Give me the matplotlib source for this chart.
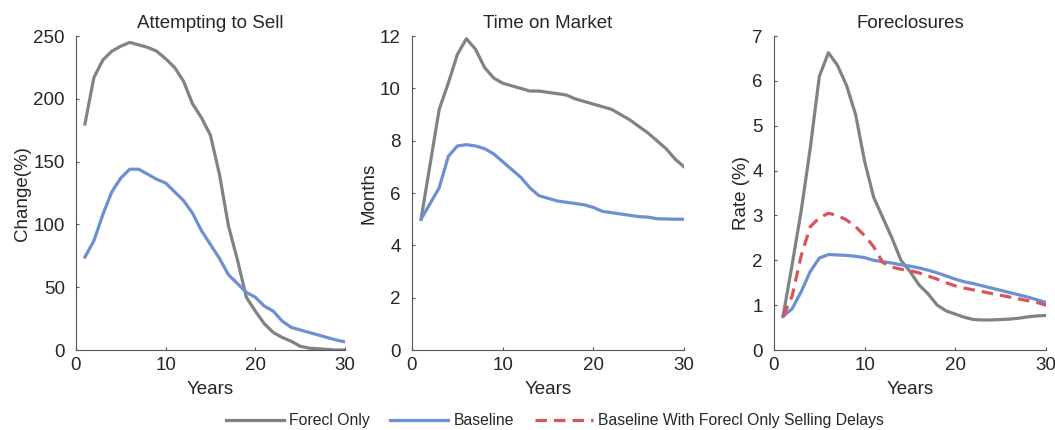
import numpy as np
import matplotlib
matplotlib.use("Agg")
import matplotlib.pyplot as plt

plt.rcParams['font.family'] = ['Liberation Sans', 'DejaVu Sans']

years = np.arange(1, 31)

# Attempting to sell, change (%)
sell_forecl = [180, 217, 231, 238, 242, 245, 243, 241, 238, 232,
               225, 214, 196, 185, 171, 140, 99, 72, 42, 31,
               21, 14, 10, 7, 3, 1.5, 1, 0.5, 0, 0]
sell_base = [74, 87, 108, 126, 137, 144, 144, 140, 136, 133,
             126, 119, 109, 95, 84, 73, 60, 53, 46, 42,
             35, 31, 23, 18, 16, 14, 12, 10, 8, 6.5]

# Time on market, months
tom_forecl = [5.0, 7.1, 9.2, 10.2, 11.3, 11.9, 11.5, 10.8, 10.4, 10.2,
              10.1, 10.0, 9.9, 9.9, 9.85, 9.8, 9.75, 9.6, 9.5, 9.4,
              9.3, 9.2, 9.0, 8.8, 8.55, 8.3, 8.0, 7.7, 7.3, 7.0]
tom_base = [5.0, 5.6, 6.2, 7.4, 7.8, 7.85, 7.8, 7.7, 7.5, 7.2,
            6.9, 6.6, 6.2, 5.9, 5.8, 5.7, 5.65, 5.6, 5.55, 5.45,
            5.3, 5.25, 5.2, 5.15, 5.1, 5.08, 5.02, 5.01, 5.0, 5.0]

# Foreclosure rate (%)
fc_forecl = [0.75, 1.9, 3.1, 4.5, 6.1, 6.63, 6.35, 5.9, 5.25, 4.2,
             3.4, 2.95, 2.5, 2.0, 1.75, 1.45, 1.25, 1.0, 0.87, 0.8,
             0.73, 0.68, 0.67, 0.67, 0.68, 0.69, 0.71, 0.74, 0.76, 0.77]
fc_base = [0.75, 0.92, 1.3, 1.75, 2.05, 2.13, 2.12, 2.11, 2.09, 2.06,
           2.0, 1.97, 1.94, 1.9, 1.87, 1.83, 1.78, 1.72, 1.65, 1.58,
           1.52, 1.48, 1.43, 1.38, 1.33, 1.28, 1.23, 1.18, 1.12, 1.06]
fc_delay = [0.75, 1.2, 2.1, 2.75, 2.95, 3.05, 3.0, 2.9, 2.75, 2.55,
            2.3, 1.95, 1.85, 1.8, 1.77, 1.72, 1.65, 1.58, 1.5, 1.43,
            1.38, 1.34, 1.3, 1.26, 1.22, 1.18, 1.14, 1.1, 1.06, 1.0]

GRAY = '#7f8482'
BLUE = '#6c90d2'
RED = '#d9545c'
TXT = '#262626'
LW = 2.3
FS = 13.5

fig = plt.figure(figsize=(10.55, 4.3), dpi=100)
boxes = [[0.072, 0.186, 0.255, 0.730],
         [0.3905, 0.186, 0.258, 0.730],
         [0.7336, 0.186, 0.258, 0.730]]
axes = [fig.add_axes(b) for b in boxes]


def style(ax, title, ylabel, ymax, ystep):
    ax.set_title(title, fontsize=FS, color=TXT, pad=6)
    ax.set_xlabel('Years', fontsize=FS, color=TXT, labelpad=5)
    ax.set_ylabel(ylabel, fontsize=FS, color=TXT, labelpad=2)
    ax.set_xlim(0, 30)
    ax.set_ylim(0, ymax)
    ax.set_xticks([0, 10, 20, 30])
    ax.set_yticks(np.arange(0, ymax + ystep / 2, ystep))
    for s in ['top', 'right']:
        ax.spines[s].set_visible(False)
    for s in ['left', 'bottom']:
        ax.spines[s].set_color('#555555')
        ax.spines[s].set_linewidth(0.8)
    ax.tick_params(direction='in', length=2, width=0.8, colors='#555555',
                   labelsize=FS, labelcolor=TXT)
    ax.tick_params(axis='y', pad=8)
    ax.tick_params(axis='x', pad=5)


ax = axes[0]
ax.plot(years, sell_forecl, color=GRAY, lw=LW)
ax.plot(years, sell_base, color=BLUE, lw=LW)
style(ax, 'Attempting to Sell', 'Change(%)', 250, 50)

ax = axes[1]
ax.plot(years, tom_forecl, color=GRAY, lw=LW)
ax.plot(years, tom_base, color=BLUE, lw=LW)
style(ax, 'Time on Market', 'Months', 12, 2)

ax = axes[2]
l1, = ax.plot(years, fc_forecl, color=GRAY, lw=LW, label='Forecl Only')
l2, = ax.plot(years, fc_base, color=BLUE, lw=LW, label='Baseline')
l3, = ax.plot(years, fc_delay, color=RED, lw=LW, ls=(0, (3.6, 2.2)),
              label='Baseline With Forecl Only Selling Delays')
style(ax, 'Foreclosures', 'Rate (%)', 7, 1)

fig.legend(handles=[l1, l2, l3], loc='center', bbox_to_anchor=(0.526, 0.022),
           ncol=3, frameon=False, fontsize=11.3, handlelength=3.7,
           columnspacing=1.3, handletextpad=0.35, labelcolor=TXT)

fig.savefig('out.png', dpi=100)
